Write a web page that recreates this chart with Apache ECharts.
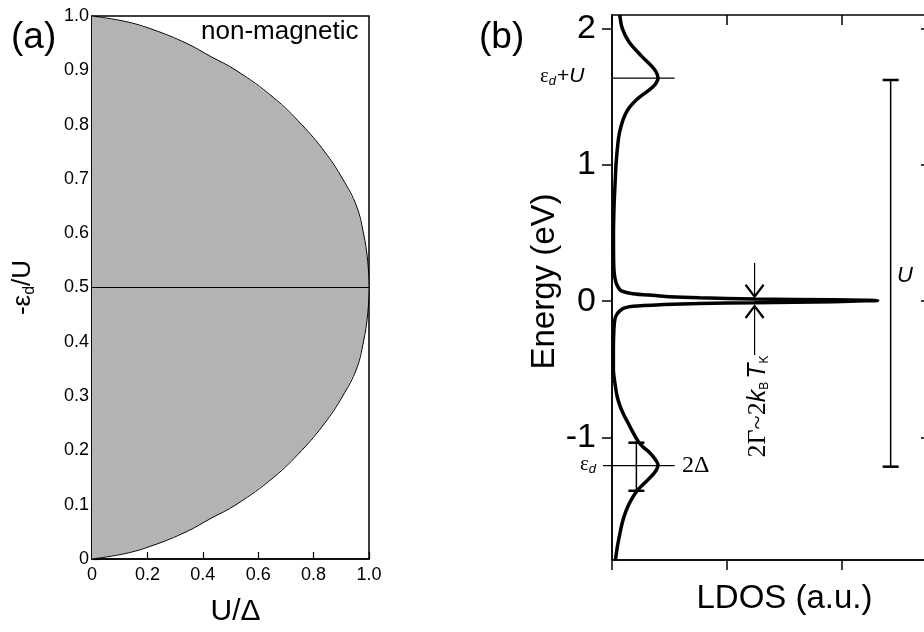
<!DOCTYPE html>
<html>
<head>
<meta charset="utf-8">
<script src="https://cdn.jsdelivr.net/npm/echarts@6/dist/echarts.min.js"></script>
<style>
html,body{margin:0;padding:0;background:#fff;overflow:hidden}
#chart{width:960px;height:632px}
</style>
</head>
<body>
<div id="chart"></div>
<script>
// (a) phase boundary: U/Delta at each -eps_d/U
var phaseEps = [0, 0.01, 0.025, 0.05, 0.075, 0.1, 0.15, 0.2, 0.25, 0.3, 0.35, 0.4, 0.45, 0.5,
                0.55, 0.6, 0.65, 0.7, 0.75, 0.8, 0.85, 0.9, 0.925, 0.95, 0.975, 0.99, 1]
var phaseU = [0, 0.12, 0.22, 0.34, 0.43, 0.52, 0.655, 0.757, 0.84, 0.905, 0.955, 0.98, 0.995, 1.0,
              0.995, 0.98, 0.955, 0.905, 0.84, 0.757, 0.655, 0.52, 0.43, 0.34, 0.22, 0.12, 0]
var halfFilling = 0.5

// (b) LDOS vs energy (eV)
var ldosE = [2.1, 2.0, 1.9, 1.8, 1.725, 1.68, 1.635, 1.59, 1.554, 1.51, 1.48, 1.44, 1.408, 1.36, 1.31, 1.24, 1.163,
             1.016, 0.918, 0.8, 0.7, 0.5, 0.3, 0.2, 0.137, 0.1, 0.075, 0.054, 0.041, 0.033, 0.025, 0.016, 0.01,
             0.006, 0.004, 0.002, -0.004, -0.012, -0.017, -0.025, -0.037, -0.05, -0.073, -0.1, -0.134, -0.2,
             -0.35, -0.5, -0.6, -0.7, -0.771, -0.83, -0.893, -0.96, -1.028, -1.07, -1.113, -1.16, -1.199,
             -1.24, -1.285, -1.33, -1.383, -1.44, -1.505, -1.58, -1.652, -1.73, -1.8, -1.9]
var ldosVal = [0.067, 0.09, 0.15, 0.255, 0.345, 0.385, 0.40, 0.375, 0.33, 0.26, 0.215, 0.17, 0.14, 0.11, 0.088, 0.066, 0.052,
               0.036, 0.03, 0.023, 0.018, 0.013, 0.014, 0.02, 0.035, 0.055, 0.08, 0.18, 0.38, 0.5, 0.76, 1.24, 1.93,
               2.2, 2.31, 2.2, 1.93, 1.24, 0.76, 0.45, 0.18, 0.11, 0.066, 0.04, 0.025, 0.017,
               0.012, 0.012, 0.025, 0.045, 0.07, 0.1, 0.139, 0.18, 0.226, 0.27, 0.328, 0.375, 0.40,
               0.385, 0.343, 0.29, 0.226, 0.18, 0.139, 0.105, 0.082, 0.063, 0.047, 0.03]
var energyTicks = [-1, 0, 1, 2]
var energyMinor = [-1.5, -0.5, 0.5, 1.5]
var ldosTicks = [0, 1, 2, 3]

// annotations (b)
var levelE = [1.637, -1.208]          // eps_d+U, eps_d
var levelEnd = 0.545                  // LDOS where the level lines stop
var widthBarX = 0.212, widthBarE = [-1.039, -1.392]   // 2Delta
var uBarX = 2.423, uBarE = [1.623, -1.215]             // U
var kondoX = 1.24
var kondoArrows = [[0.032, 0.28], [-0.036, -0.396]]   // [tip, tail]

var SANS = "'Liberation Sans', Arial, sans-serif"
var SERIF = "'Liberation Serif', 'Times New Roman', serif"

var chart = echarts.init(document.getElementById('chart'))

function fmtA(v) {
  if (v === 0) return '0'
  return v.toFixed(1)
}

// vertical bar with caps, in data coords
function capBar(x, e0, e1) {
  return function (params, api) {
    var a = api.coord([x, e0]), b = api.coord([x, e1])
    var cap = 8
    return {type: 'group', children: [
      {type: 'line', shape: {x1: a[0], y1: a[1], x2: b[0], y2: b[1]}, style: {stroke: '#000', lineWidth: 1.5}},
      {type: 'line', shape: {x1: a[0] - cap, y1: a[1], x2: a[0] + cap, y2: a[1]}, style: {stroke: '#000', lineWidth: 2.5}},
      {type: 'line', shape: {x1: b[0] - cap, y1: b[1], x2: b[0] + cap, y2: b[1]}, style: {stroke: '#000', lineWidth: 2.5}}
    ]}
  }
}

var option = {
  animation: false,
  backgroundColor: '#fff',
  textStyle: {fontFamily: SANS, color: '#000'},
  grid: [
    {left: 92, top: 16, width: 277, height: 546, show: true, borderColor: '#000', borderWidth: 1.5, backgroundColor: 'transparent'},
    {left: 612, top: 15, width: 345, height: 545, show: true, borderColor: '#000', borderWidth: 1.5, backgroundColor: 'transparent'}
  ],
  xAxis: [
    {gridIndex: 0, type: 'value', min: 0, max: 1, interval: 0.2,
     name: 'U/Δ', nameLocation: 'middle', nameGap: 38,
     nameTextStyle: {fontSize: 30, fontFamily: SANS, color: '#000', padding: [0, 0, 0, 10]},
     axisLine: {onZero: false, lineStyle: {color: '#000', width: 1.5}},
     axisTick: {inside: true, length: 7, lineStyle: {color: '#000', width: 1.2}},
     axisLabel: {fontSize: 18, color: '#000', margin: 7, formatter: function (v) { return fmtA(v) }},
     splitLine: {show: false}},
    {gridIndex: 1, type: 'value', min: 0, max: 3,
     name: 'LDOS (a.u.)', nameLocation: 'middle', nameGap: 22,
     nameTextStyle: {fontSize: 33, fontFamily: SANS, color: '#000', verticalAlign: 'top'},
     axisLine: {onZero: false, lineStyle: {color: '#000', width: 1.5}},
     axisTick: {length: 10, customValues: ldosTicks, lineStyle: {color: '#000', width: 1.5}},
     axisLabel: {show: false},
     splitLine: {show: false}},
    {gridIndex: 1, type: 'value', min: 0, max: 3, position: 'top',
     axisLine: {show: false, onZero: false},
     axisTick: {inside: true, length: 10, customValues: ldosTicks, lineStyle: {color: '#000', width: 1.5}},
     axisLabel: {show: false}, splitLine: {show: false}}
  ],
  yAxis: [
    {gridIndex: 0, type: 'value', min: 0, max: 1, interval: 0.1,
     name: '{t|-ε}{sub|d}{t|/U}', nameLocation: 'middle', nameGap: 54, nameRotate: 90,
     nameTextStyle: {rich: {
       t: {fontSize: 26, fontFamily: SANS, color: '#000'},
       sub: {fontSize: 16, fontFamily: SANS, color: '#000', verticalAlign: 'bottom', padding: [14, 0, 0, 0]}
     }},
     axisLine: {onZero: false, lineStyle: {color: '#000', width: 1.5}},
     axisTick: {inside: true, length: 7, lineStyle: {color: '#000', width: 1.2}},
     axisLabel: {fontSize: 18, color: '#000', margin: 3, formatter: function (v) { return fmtA(v) }},
     splitLine: {show: false}},
    {gridIndex: 1, type: 'value', min: -1.9, max: 2.1,
     name: 'Energy (eV)', nameLocation: 'middle', nameGap: 43, nameRotate: 90,
     nameTextStyle: {fontSize: 33, fontFamily: SANS, color: '#000', padding: [0, 0, 0, 12]},
     axisLine: {onZero: false, lineStyle: {color: '#000', width: 1.5}},
     axisTick: {length: 10, customValues: energyTicks, lineStyle: {color: '#000', width: 1.5}},
     axisLabel: {fontSize: 34, color: '#000', margin: 16, customValues: energyTicks,
                 formatter: function (v) { return String(v) }},
     splitLine: {show: false}},
    {gridIndex: 1, type: 'value', min: -1.9, max: 2.1,
     axisLine: {show: false, onZero: false},
     axisTick: {length: 6, customValues: energyMinor, lineStyle: {color: '#000', width: 1.5}},
     axisLabel: {show: false}, splitLine: {show: false}},
    {gridIndex: 1, type: 'value', min: -1.9, max: 2.1, position: 'right', offset: -26,
     axisLine: {show: false, onZero: false},
     axisTick: {inside: true, length: 10, customValues: energyTicks, lineStyle: {color: '#000', width: 1.5}},
     axisLabel: {show: false}, splitLine: {show: false}}
  ],
  series: [
    {type: 'custom', xAxisIndex: 0, yAxisIndex: 0, data: [0], silent: true, clip: true,
     renderItem: function (params, api) {
       var pts = phaseU.map(function (u, i) { return api.coord([u, phaseEps[i]]) })
       return {type: 'polygon', shape: {points: pts}, style: {fill: '#b3b3b3', stroke: null}}
     }},
    {type: 'line', xAxisIndex: 0, yAxisIndex: 0, symbol: 'none', silent: true,
     smooth: 0.4,
     data: phaseU.map(function (u, i) { return [u, phaseEps[i]] }),
     lineStyle: {color: '#000', width: 1}},
    {type: 'line', xAxisIndex: 0, yAxisIndex: 0, symbol: 'none', silent: true,
     data: [[0, halfFilling], [1, halfFilling]], lineStyle: {color: '#000', width: 1}},

    {type: 'line', xAxisIndex: 1, yAxisIndex: 1, symbol: 'none', silent: true,
     smooth: 0.3,
     data: ldosE.map(function (e, i) { return [ldosVal[i], e] }),
     lineStyle: {color: '#000', width: 3.5}, z: 5},

    // level lines eps_d+U and eps_d
    {type: 'custom', xAxisIndex: 1, yAxisIndex: 1, data: levelE.map(function (e, i) { return [e, i] }), silent: true,
     renderItem: function (params, api) {
       var e = api.value(0)
       var a = api.coord([0, e]), b = api.coord([levelEnd, e])
       var start = api.value(1) === 1 ? a[0] - 9 : a[0]
       return {type: 'line', shape: {x1: start, y1: a[1], x2: b[0], y2: b[1]}, style: {stroke: '#000', lineWidth: 1.2}}
     }},
    {type: 'custom', xAxisIndex: 1, yAxisIndex: 1, data: [0], silent: true,
     renderItem: capBar(widthBarX, widthBarE[0], widthBarE[1])},
    {type: 'custom', xAxisIndex: 1, yAxisIndex: 1, data: [0], silent: true,
     renderItem: capBar(uBarX, uBarE[0], uBarE[1])},
    // Kondo width arrows
    {type: 'custom', xAxisIndex: 1, yAxisIndex: 1, data: kondoArrows, silent: true,
     renderItem: function (params, api) {
       var tip = api.coord([kondoX, api.value(0)]), tail = api.coord([kondoX, api.value(1)])
       var dir = tail[1] < tip[1] ? -1 : 1
       var w = 9, h = 12
       return {type: 'group', children: [
         {type: 'line', shape: {x1: tail[0], y1: tail[1], x2: tip[0], y2: tip[1]}, style: {stroke: '#000', lineWidth: 1.2}},
         {type: 'polyline', shape: {points: [[tip[0] - w, tip[1] + dir * h], [tip[0], tip[1]], [tip[0] + w, tip[1] + dir * h]]},
          style: {stroke: '#000', lineWidth: 2.2, fill: null}}
       ]}
     }}
  ],
  graphic: [
    {type: 'text', left: 11, top: 19, style: {text: '(a)', font: '37px ' + SANS, fill: '#000'}},
    {type: 'text', left: 479, top: 19, style: {text: '(b)', font: '37px ' + SANS, fill: '#000'}},
    {type: 'text', left: 201, top: 19, style: {text: 'non-magnetic', font: '26px ' + SANS, fill: '#000'}},
    {type: 'text', left: 160, top: 207, style: {text: 'magnetic', font: '26px ' + SANS, fill: '#000'}},
    {type: 'text', left: 540, top: 66, style: {
      text: '{e|ε}{d|d}{p|+}{u|U}',
      rich: {
        e: {font: '21px ' + SERIF, fill: '#000'},
        d: {font: 'italic 13px ' + SANS, fill: '#000', verticalAlign: 'bottom', padding: [10, 1, 0, 0]},
        p: {font: '21px ' + SANS, fill: '#000'},
        u: {font: 'italic 21px ' + SANS, fill: '#000'}
      }}},
    {type: 'text', left: 580, top: 454, style: {
      text: '{e|ε}{d|d}',
      rich: {
        e: {font: '21px ' + SERIF, fill: '#000'},
        d: {font: 'italic 13px ' + SANS, fill: '#000', verticalAlign: 'bottom', padding: [10, 0, 0, 0]}
      }}},
    {type: 'text', left: 682, top: 454, style: {text: '2Δ', font: '24px ' + SERIF, fill: '#000'}},
    {type: 'text', left: 897, top: 265, style: {text: 'U', font: 'italic 22px ' + SANS, fill: '#000'}},
    {type: 'text', x: 758, y: 405, rotation: Math.PI / 2, style: {
      text: '{s|2Γ~2}{i|k}{b|B}{i|T}{b|K}',
      align: 'center', verticalAlign: 'middle',
      rich: {
        s: {font: '26px ' + SERIF, fill: '#000'},
        i: {font: 'italic 25px ' + SANS, fill: '#000'},
        b: {font: '12px ' + SANS, fill: '#000', verticalAlign: 'bottom', padding: [11, 3, 0, 0]}
      }}}
  ]
}
chart.setOption(option)
</script>
</body>
</html>
